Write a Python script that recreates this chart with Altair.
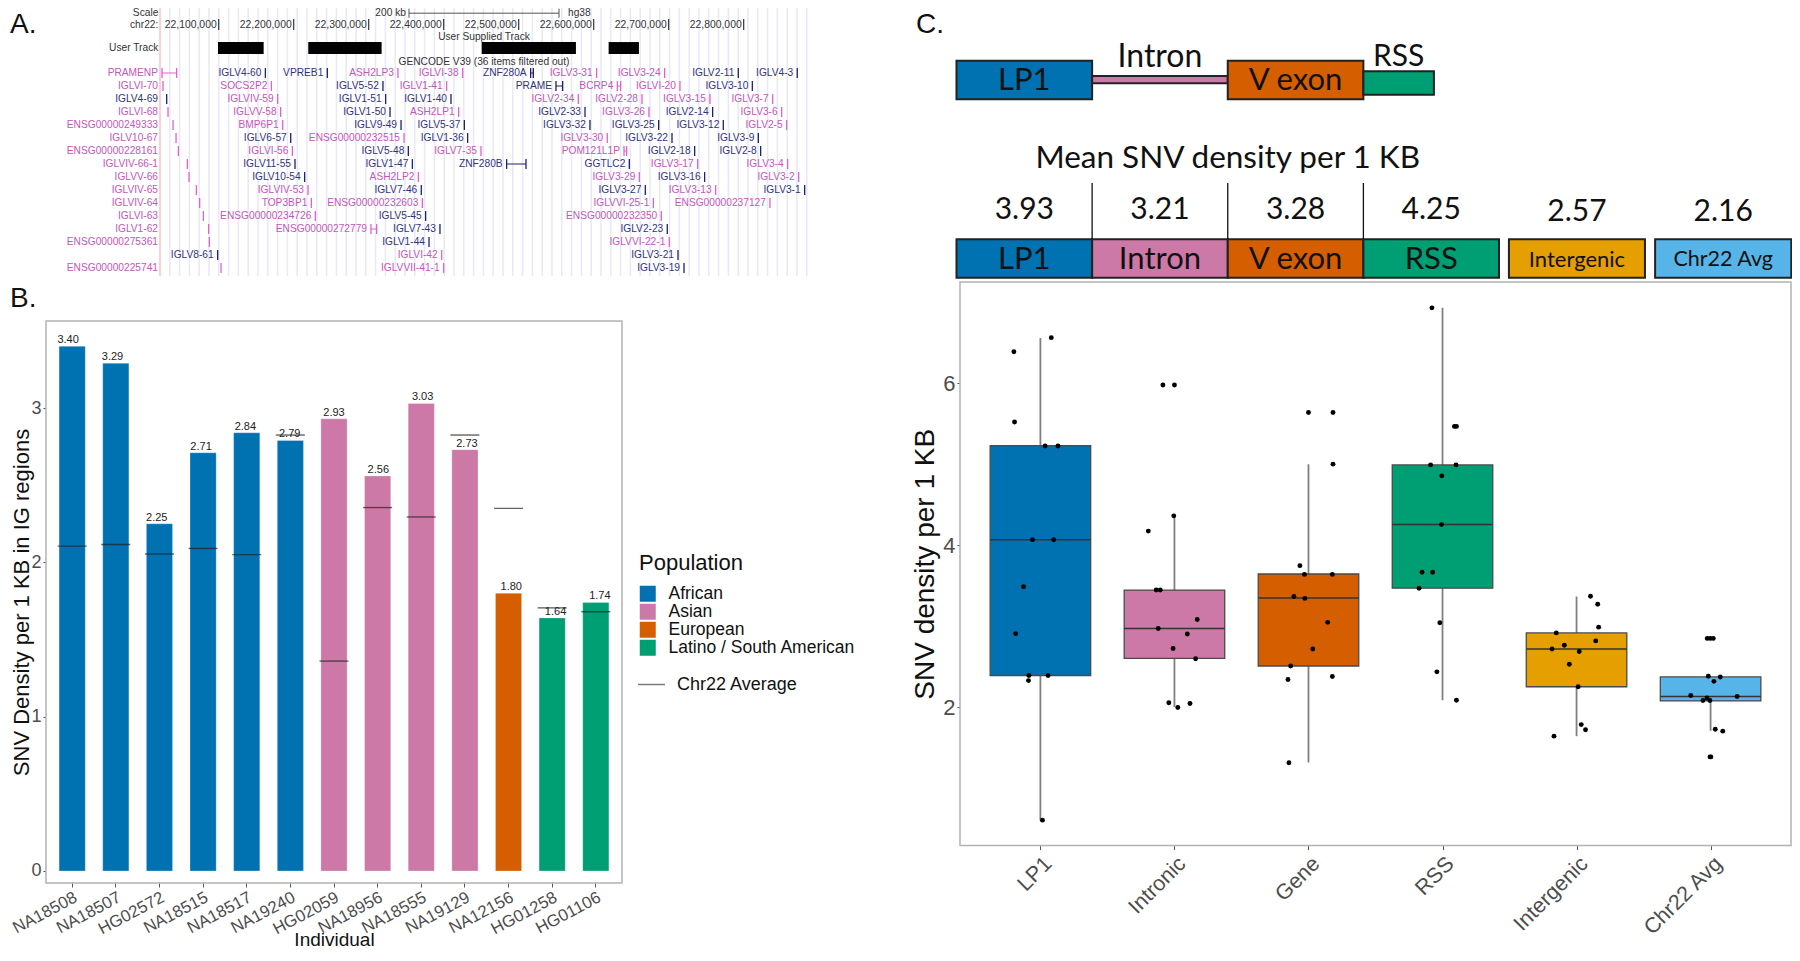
import altair as alt
import pandas as pd

# ---------- panel B values ----------
individuals = ["NA18508","NA18507","HG02572","NA18515","NA18517","NA19240","HG02059","NA18956","NA18555","NA19129","NA12156","HG01258","HG01106"]
populations = ["African"]*6 + ["Asian"]*4 + ["European"] + ["Latino / South American"]*2
ig_density = [3.40,3.29,2.25,2.71,2.84,2.79,2.93,2.56,3.03,2.73,1.80,1.64,1.74]
chr22_avg = [2.105,2.116,2.054,2.09,2.05,2.825,1.36,2.355,2.294,2.825,2.35,1.705,1.68]
pop_names = ["African","Asian","European","Latino / South American"]
pop_colors = ["#0072B2","#CC79A7","#D55E00","#009E73"]

# ---------- panel C values ----------
regions = ["LP1","Intronic","Gene","RSS","Intergenic","Chr22 Avg"]
region_colors = ["#0072B2","#CC79A7","#D55E00","#009E73","#E69F00","#56B4E9"]
q1 = [2.389,2.60,2.506,3.467,2.25,2.075]
med = [4.064,2.969,3.346,4.253,2.717,2.13]
q3 = [5.227,3.444,3.642,4.989,2.915,2.372]
wlo = [0.604,2.0,1.316,2.084,1.64,1.707]
whi = [6.556,4.36,4.998,6.93,3.364,2.372]
pts_lp1 = [(.081,6.56),(-.198,6.385),(-.193,5.518),(.035,5.222),(.131,5.222),(-.059,4.064),(.099,4.064),(-.126,3.485),(-.185,2.906),(-.086,2.389),(.057,2.389),(-.089,2.326),(.015,.603)]
pts_intronic = [(-.086,5.976),(0,5.976),(-.005,4.36),(-.195,4.172),(-.136,3.444),(-.106,3.444),(.17,3.081),(-.121,2.969),(.096,2.901),(-.01,2.722),(.158,2.596),(-.042,2.053),(.116,2.044),(.025,1.994)]
pts_gene = [(0,5.635),(.183,5.635),(.183,4.998),(-.064,3.745),(-.03,3.637),(.178,3.637),(-.109,3.364),(-.027,3.341),(.143,3.045),(.032,2.717),(-.133,2.506),(-.153,2.34),(.178,2.376),(-.146,1.312)]
pts_rss = [(-.079,6.928),(.089,5.464),(.104,5.464),(-.089,4.989),(.101,4.989),(-.005,4.854),(-.007,4.252),(-.153,3.664),(-.074,3.664),(-.175,3.467),(-.02,3.04),(-.042,2.434),(.104,2.084)]
pts_intergenic = [(.104,3.368),(.158,3.269),(.165,2.986),(-.151,2.915),(.143,2.816),(-.091,2.762),(-.183,2.717),(.02,2.686),(-.054,2.528),(.012,2.25),(.035,1.783),(.067,1.72),(-.168,1.64)]
pts_chr22 = [(-.025,2.847),(-.002,2.847),(.02,2.847),(-.017,2.38),(.072,2.371),(.025,2.317),(-.148,2.142),(.198,2.129),(-.027,2.111),(-.057,2.08),(-.005,2.08),(.035,1.725),(.091,1.702),(.002,1.384),(-.004,1.384)]
all_pts = [pts_lp1,pts_intronic,pts_gene,pts_rss,pts_intergenic,pts_chr22]

mean_labels = ["LP1","Intron","V exon","RSS","Intergenic","Chr22 Avg"]
mean_values = ["3.93","3.21","3.28","4.25","2.57","2.16"]
mean_colors = region_colors

# ---------- panel A values (kb on chr22) ----------
P, N = "p", "n"
genes = [
 [("PRAMENP",22024.4,22043.9,P),("IGLV4-60",22162.2,0,N),("VPREB1",22244.8,0,N),("ASH2LP3",22339.0,0,P),("IGLVI-38",22425.3,0,P),("ZNF280A",22515.9,22519.5,N),("IGLV3-31",22603.9,0,P),("IGLV3-24",22694.6,0,P),("IGLV2-11",22792.8,0,N),("IGLV4-3",22871.4,0,N)],
 [("IGLVI-70",22025.7,0,P),("SOCS2P2",22170.2,0,P),("IGLV5-52",22319.0,0,N),("IGLV1-41",22403.9,0,P),("PRAME",22549.7,22558.6,N),("BCRP4",22631.5,22635.9,P),("IGLVI-20",22715.0,0,P),("IGLV3-10",22811.5,0,N)],
 [("IGLV4-69",22030.6,0,N),("IGLVIV-59",22178.6,0,P),("IGLV1-51",22322.6,0,N),("IGLV1-40",22409.7,0,N),("IGLV2-34",22579.5,0,P),("IGLV2-28",22664.4,0,P),("IGLV3-15",22755.0,0,P),("IGLV3-7",22838.6,0,P)],
 [("IGLVI-68",22032.4,0,P),("IGLVV-58",22182.6,0,P),("IGLV1-50",22328.4,0,N),("ASH2LP1",22419.9,0,P),("IGLV2-33",22588.4,0,N),("IGLV3-26",22673.7,0,P),("IGLV2-14",22758.6,0,N),("IGLV3-6",22850.6,0,P)],
 [("ENSG00000249333",22039.1,0,P),("BMP6P1",22185.3,0,P),("IGLV9-49",22343.1,0,N),("IGLV5-37",22427.5,0,N),("IGLV3-32",22595.0,0,N),("IGLV3-25",22686.6,0,N),("IGLV3-12",22772.8,0,N),("IGLV2-5",22857.3,0,P)],
 [("IGLV10-67",22043.1,0,P),("IGLV6-57",22196.0,0,N),("ENSG00000232515",22347.1,0,P),("IGLV1-36",22431.9,0,N),("IGLV3-30",22618.1,0,P),("IGLV3-22",22704.4,0,N),("IGLV3-9",22819.5,0,N)],
 [("ENSG00000228161",22046.2,0,P),("IGLVI-56",22198.2,0,P),("IGLV5-48",22352.8,0,N),("IGLV7-35",22449.7,0,P),("POM121L1P",22640.4,22643.9,P),("IGLV2-18",22734.6,0,N),("IGLV2-8",22822.6,0,N)],
 [("IGLVIV-66-1",22058.2,0,P),("IGLV11-55",22201.7,0,N),("IGLV1-47",22358.2,0,N),("ZNF280B",22483.9,22509.7,N),("GGTLC2",22647.5,0,N),("IGLV3-17",22738.6,0,P),("IGLV3-4",22858.6,0,P)],
 [("IGLVV-66",22060.4,0,P),("IGLV10-54",22214.6,0,N),("ASH2LP2",22366.2,0,P),("IGLV3-29",22660.8,0,P),("IGLV3-16",22747.9,0,N),("IGLV3-2",22873.3,0,P)],
 [("IGLVIV-65",22070.2,0,P),("IGLVIV-53",22219.1,0,P),("IGLV7-46",22370.1,0,N),("IGLV3-27",22668.8,0,N),("IGLV3-13",22762.6,0,P),("IGLV3-1",22881.3,0,N)],
 [("IGLVIV-64",22074.6,0,P),("TOP3BP1",22223.5,0,P),("ENSG00000232603",22371.5,0,P),("IGLVVI-25-1",22679.5,0,P),("ENSG00000237127",22835.0,0,P)],
 [("IGLVI-63",22079.5,0,P),("ENSG00000234726",22228.8,0,P),("IGLV5-45",22375.9,0,N),("ENSG00000232350",22690.1,0,P)],
 [("IGLV1-62",22086.6,0,P),("ENSG00000272779",22303.0,22310.6,P),("IGLV7-43",22395.0,0,N),("IGLV2-23",22698.1,0,N)],
 [("ENSG00000275361",22087.5,0,P),("IGLV1-44",22380.4,0,N),("IGLVVI-22-1",22700.8,0,P)],
 [("IGLV8-61",22098.6,0,N),("IGLVI-42",22397.3,0,P),("IGLV3-21",22712.4,0,N)],
 [("ENSG00000225741",22103.1,0,P),("IGLVVII-41-1",22399.9,0,P),("IGLV3-19",22720.4,0,N)],
]
coord_ticks = [22100,22200,22300,22400,22500,22600,22700,22800]
user_track_start = [22099.0,22219.4,22450.6,22619.9]
user_track_end = [22159.9,22317.2,22576.3,22660.3]

# ---------- layout (page pixels: padding of -8 makes plot coordinates equal page coordinates) ----------
W, H = 1792, 952
GREY = "#4d4d4d"
FRAME = "#b3b3b3"
SANS = "Liberation Sans"
CAL = "Lato"
def qs(dom, a, b):
    return alt.Scale(domain=dom, range=[a, b], nice=False, zero=False)
A_X = qs([22021.7, 22884.4], 160, 807)
A_Y = qs([0, 15], 73, 268)
B_L, B_R, B_T, B_B = 46, 622, 321, 883
B_Xs = alt.Scale(domain=individuals, range=[B_L, B_R], paddingInner=0.4, paddingOuter=0.3)
B_Y = qs([-0.078, 3.564], B_B, B_T)
C_L, C_R, C_T, C_B = 960, 1791, 282, 845.6
C_X = qs([0.4, 6.6], C_L, C_R)
C_Y = qs([0.289, 7.247], C_B, C_T)
U_X = qs([0, 6.155], 956.5, 1791.3)
PG_X = qs([0, 1800], 0, 1800)
PG_Y = qs([0, 961], 0, 961)

layers = []

def ax(f, s): return alt.X(f, scale=s, axis=None)
def ay(f, s): return alt.Y(f, scale=s, axis=None)

# ---------- panel A ----------
PINKT, NAVYT, PINKM, NAVYM = "#c456b8", "#33337d", "#e25fd6", "#1f1f70"
grid_kb = [22021.7 + k * 9.8 * 4 / 3 for k in range(1, 67)]
layers.append(alt.Chart(pd.DataFrame({"k": grid_kb, "a": -5.62, "b": 15.62})).mark_rule(color="#e8e8f6", strokeWidth=1.5)
              .encode(x=ax("k:Q", A_X), y=ay("a:Q", A_Y), y2="b:Q"))
layers.append(alt.Chart(pd.DataFrame({"k": [22021.7], "a": -5.62, "b": 15.62})).mark_rule(color="#f7c4c4", strokeWidth=1.5)
              .encode(x=ax("k:Q", A_X), y=ay("a:Q", A_Y), y2="b:Q"))
grows = []
for r, row in enumerate(genes):
    for j, (name, s, e, c) in enumerate(row):
        lab = 22024.4 if (j == 0 and name != "IGLV8-61") else s
        grows.append(dict(name=name, s=s, e=e if e else s, cls=c, row=r, lab=lab, a=r - 0.38, b=r + 0.38))
gdf = pd.DataFrame(grows)
cls_color = alt.Scale(domain=[P, N], range=[PINKT, NAVYT])
cls_mark = alt.Scale(domain=[P, N], range=[PINKM, NAVYM])
layers.append(alt.Chart(gdf).mark_text(align="right", baseline="middle", font=SANS, fontSize=10.2, dx=-4)
              .encode(x=ax("lab:Q", A_X), y=ay("row:Q", A_Y), text="name:N",
                      color=alt.Color("cls:N", scale=cls_color, legend=None)))
layers.append(alt.Chart(gdf).mark_rule(strokeWidth=1.3)
              .encode(x=ax("s:Q", A_X), y=ay("a:Q", A_Y), y2="b:Q",
                      color=alt.Color("cls:N", scale=cls_mark, legend=None)))
span = gdf[gdf.e > gdf.s]
layers.append(alt.Chart(span).mark_rule(strokeWidth=1.3)
              .encode(x=ax("e:Q", A_X), y=ay("a:Q", A_Y), y2="b:Q",
                      color=alt.Color("cls:N", scale=cls_mark, legend=None)))
layers.append(alt.Chart(span).mark_rule(strokeWidth=1)
              .encode(x=ax("s:Q", A_X), x2="e:Q", y=ay("row:Q", A_Y),
                      color=alt.Color("cls:N", scale=cls_mark, legend=None)))
layers.append(alt.Chart(pd.DataFrame({"s": user_track_start, "e": user_track_end, "a": -2.38, "b": -1.46}))
              .mark_rect(color="#000000").encode(x=ax("s:Q", A_X), x2="e:Q", y=ay("a:Q", A_Y), y2="b:Q"))
ct = pd.DataFrame({"k": coord_ticks, "t": [f"{c*1000:,}" for c in coord_ticks], "r": -3.72, "a": -4.15, "b": -3.3})
layers.append(alt.Chart(ct).mark_text(align="right", baseline="middle", font=SANS, fontSize=10.4, dx=-2, color="#333333")
              .encode(x=ax("k:Q", A_X), y=ay("r:Q", A_Y), text="t:N"))
layers.append(alt.Chart(ct).mark_rule(color="#222222", strokeWidth=1.1)
              .encode(x=ax("k:Q", A_X), y=ay("a:Q", A_Y), y2="b:Q"))
sb = pd.DataFrame({"s": [22353.7], "e": [22553.7], "r": -4.6, "a": -4.95, "b": -4.25})
layers.append(alt.Chart(sb).mark_rule(color="#555555", strokeWidth=1).encode(x=ax("s:Q", A_X), x2="e:Q", y=ay("r:Q", A_Y)))
layers.append(alt.Chart(sb).mark_rule(color="#555555", strokeWidth=1).encode(x=ax("s:Q", A_X), y=ay("a:Q", A_Y), y2="b:Q"))
layers.append(alt.Chart(sb).mark_rule(color="#555555", strokeWidth=1).encode(x=ax("e:Q", A_X), y=ay("a:Q", A_Y), y2="b:Q"))
atext = pd.DataFrame([
    dict(t="Scale", k=22019.5, r=-4.6, al="right"),
    dict(t="chr22:", k=22019.5, r=-3.72, al="right"),
    dict(t="User Track", k=22019.5, r=-1.92, al="right"),
    dict(t="200 kb", k=22349.6, r=-4.6, al="right"),
    dict(t="hg38", k=22565.7, r=-4.6, al="left"),
    dict(t="User Supplied Track", k=22453.7, r=-2.77, al="center"),
    dict(t="GENCODE V39 (36 items filtered out)", k=22453.7, r=-0.85, al="center"),
])
for al in ["right", "left", "center"]:
    layers.append(alt.Chart(atext[atext.al == al]).mark_text(align=al, baseline="middle", font=SANS, fontSize=10.2, color="#333333")
                  .encode(x=ax("k:Q", A_X), y=ay("r:Q", A_Y), text="t:N"))

# ---------- panel letters ----------
letters = pd.DataFrame({"t": ["A.", "B.", "C."], "x": [10, 10, 916], "y": [33, 307, 33]})
layers.append(alt.Chart(letters).mark_text(align="left", baseline="alphabetic", font=SANS, fontSize=28, color="#111111")
              .encode(x=ax("x:Q", PG_X), y=ay("y:Q", PG_Y), text="t:N"))

# ---------- panel B ----------
bdf = pd.DataFrame({"ind": individuals, "pop": populations, "v": ig_density, "avg": chr22_avg,
                    "lab": [f"{v:.2f}" for v in ig_density], "line": "Chr22 Average"})
frame = pd.DataFrame({"a": [0]})
layers.append(alt.Chart(frame).mark_rect(fill="white", stroke=FRAME, strokeWidth=1.5)
              .encode(x=alt.value(B_L), x2=alt.value(B_R), y=alt.value(B_T), y2=alt.value(B_B)))
layers.append(alt.Chart(bdf).mark_bar(stroke="#ffffff", strokeOpacity=0.35, strokeWidth=0.8).encode(
    x=alt.X("ind:N", scale=B_Xs, sort=individuals, axis=alt.Axis(
        title="Individual", orient="bottom", offset=-(H - B_B), labelAngle=-28, labelAlign="right",
        labelBaseline="top", labelFontSize=16.8, labelColor=GREY, labelFont=SANS, tickColor="#555555", tickSize=4,
        domain=False, titleFontSize=19, titleFont=SANS, titleFontWeight="normal", titleColor="#111111",
        titlePadding=-7, labelPadding=2, grid=False)),
    y=alt.Y("v:Q", scale=B_Y, axis=alt.Axis(
        title="SNV Density per 1 KB in IG regions", orient="left", offset=-B_L, values=[0, 1, 2, 3], format="d",
        labelFontSize=18, labelColor=GREY, labelFont=SANS, tickColor="#555555", tickSize=3, domain=False, grid=False,
        titleFontSize=22, titleFont=SANS, titleFontWeight="normal", titleColor="#111111", titlePadding=-3)),
    y2=alt.Y2(datum=0),
    color=alt.Color("pop:N", title="Population", scale=alt.Scale(domain=pop_names, range=pop_colors),
                    legend=alt.Legend(orient="none", legendX=639, legendY=553, symbolType="square", symbolSize=256,
                                      symbolStrokeWidth=0, titleFontSize=22, titleFont=SANS, titleFontWeight="normal",
                                      titleColor="#111111", labelFontSize=17.5, labelFont=SANS, labelColor="#111111",
                                      rowPadding=-1.2, labelOffset=12, titlePadding=10, padding=0, labelLimit=400))))
layers.append(alt.Chart(bdf).mark_text(baseline="bottom", font=SANS, fontSize=11, dy=-1, color="#222222")
              .encode(x=alt.X("ind:N", scale=B_Xs, sort=individuals, axis=None), y=ay("v:Q", B_Y), text="lab:N"))
layers.append(alt.Chart(bdf).mark_tick(orient="horizontal", size=29, thickness=1.4).encode(
    x=alt.X("ind:N", scale=B_Xs, sort=individuals, axis=None), y=ay("avg:Q", B_Y),
    color=alt.Color("line:N", title=None, scale=alt.Scale(domain=["Chr22 Average"], range=["#222222"]),
                    legend=alt.Legend(orient="none", legendX=637, legendY=670, symbolType="stroke", symbolSize=729,
                                      symbolStrokeColor="#444444", symbolStrokeWidth=1.5, labelFontSize=18, labelFont=SANS,
                                      labelColor="#111111", labelOffset=11, padding=0))))

# ---------- panel C: schematic ----------
schem = pd.DataFrame({"seg": ["LP1", "Intron", "V exon", "RSS"], "u0": [0, 1, 2, 3], "u1": [1, 2, 3, 3.52],
                      "y0": [60.7, 76, 60.7, 71.3], "y1": [99.3, 83.3, 99.3, 94.7], "c": region_colors[:4]})
layers.append(alt.Chart(schem).mark_rect(stroke="#222222", strokeWidth=2).encode(
    x=ax("u0:Q", U_X), x2="u1:Q", y=ay("y0:Q", PG_Y), y2="y1:Q", color=alt.Color("c:N", scale=None)))
st = pd.DataFrame([
    dict(t="LP1", x=0.5, y=81, s=31), dict(t="V exon", x=2.5, y=81, s=31),
    dict(t="Intron", x=1.5, y=57, s=32), dict(t="RSS", x=3.26, y=57, s=30),
    dict(t="Mean SNV density per 1 KB", x=2.0, y=159, s=31.5),
])
layers.append(alt.Chart(st).mark_text(font=CAL, baseline="middle", color="#111111").encode(
    x=ax("x:Q", U_X), y=ay("y:Q", PG_Y), text="t:N", size=alt.Size("s:Q", scale=None)))

mean_u0 = [0, 1, 2, 3, 4.073, 5.151]
mean_u1 = [1, 2, 3, 4, 5.076, 6.155]
mt = pd.DataFrame({"t": mean_labels, "v": mean_values, "u0": mean_u0, "u1": mean_u1, "c": mean_colors,
                   "um": [(a + b) / 2 for a, b in zip(mean_u0, mean_u1)],
                   "y0": 239.3, "y1": 277.7, "ym": 259.5, "yv": [210, 210, 210, 210, 212, 212],
                   "s": [31, 31, 31, 31, 22, 21.5]})
layers.append(alt.Chart(mt).mark_rect(stroke="#222222", strokeWidth=2).encode(
    x=ax("u0:Q", U_X), x2="u1:Q", y=ay("y0:Q", PG_Y), y2="y1:Q", color=alt.Color("c:N", scale=None)))
layers.append(alt.Chart(mt).mark_text(font=CAL, baseline="middle", color="#111111").encode(
    x=ax("um:Q", U_X), y=ay("ym:Q", PG_Y), text="t:N", size=alt.Size("s:Q", scale=None)))
layers.append(alt.Chart(mt).mark_text(font=CAL, baseline="middle", fontSize=30, color="#111111").encode(
    x=ax("um:Q", U_X), y=ay("yv:Q", PG_Y), text="v:N"))
layers.append(alt.Chart(pd.DataFrame({"u": [1, 2, 3], "a": 183, "b": 239})).mark_rule(color="#111111", strokeWidth=1.3).encode(
    x=ax("u:Q", U_X), y=ay("a:Q", PG_Y), y2="b:Q"))

# ---------- panel C: box plot ----------
cdf = pd.DataFrame({"i": list(range(1, 7)), "r": regions, "q1": q1, "med": med, "q3": q3, "lo": wlo, "hi": whi})
cdf["x0"] = cdf.i - 0.375
cdf["x1"] = cdf.i + 0.375
layers.append(alt.Chart(frame).mark_rect(fill="white", stroke=FRAME, strokeWidth=1.5)
              .encode(x=alt.value(C_L), x2=alt.value(C_R), y=alt.value(C_T), y2=alt.value(C_B)))
layers.append(alt.Chart(cdf).mark_rule(color="#808080", strokeWidth=1.8).encode(
    x=alt.X("i:Q", scale=C_X, axis=alt.Axis(
        orient="bottom", offset=-(H - C_B), values=[1, 2, 3, 4, 5, 6], title=None,
        labelExpr="['LP1','Intronic','Gene','RSS','Intergenic','Chr22 Avg'][datum.value-1]",
        labelAngle=-45, labelAlign="right", labelBaseline="top", labelFontSize=21.5, labelFont=SANS, labelColor=GREY,
        tickColor="#555555", tickSize=4, domain=False, grid=False, labelPadding=3, labelOverlap=False)),
    y=alt.Y("lo:Q", scale=C_Y, axis=alt.Axis(
        title="SNV density per 1 KB", orient="left", offset=-C_L, values=[2, 4, 6], format="d",
        labelFontSize=22, labelColor=GREY, labelFont=SANS, tickColor="#555555", tickSize=3, domain=False, grid=False,
        titleFontSize=28, titleFont=SANS, titleFontWeight="normal", titleColor="#111111", titlePadding=3)),
    y2="hi:Q"))
layers.append(alt.Chart(cdf).mark_rect(stroke="#4a4a4a", strokeWidth=1.3).encode(
    x=ax("x0:Q", C_X), x2="x1:Q", y=ay("q1:Q", C_Y), y2="q3:Q",
    color=alt.Color("r:N", scale=alt.Scale(domain=regions, range=region_colors), legend=None)))
layers.append(alt.Chart(cdf).mark_rule(color="#333333", strokeWidth=1.6).encode(
    x=ax("x0:Q", C_X), x2="x1:Q", y=ay("med:Q", C_Y)))
prow = []
for i, pts in enumerate(all_pts):
    for dx, v in pts:
        prow.append(dict(x=i + 1 + dx, v=v))
layers.append(alt.Chart(pd.DataFrame(prow)).mark_circle(color="#000000", size=24, opacity=1).encode(
    x=ax("x:Q", C_X), y=ay("v:Q", C_Y)))

chart = (alt.layer(*layers)
         .resolve_scale(x="independent", y="independent", color="independent", size="independent")
         .properties(width=W, height=H, background="white",
                     padding={"left": -8, "top": -8, "right": 0, "bottom": 0},
                     autosize=alt.AutoSizeParams(type="none"))
         .configure_view(stroke=None))
chart.save("out.html", embed_options={"renderer": "svg", "actions": False})
